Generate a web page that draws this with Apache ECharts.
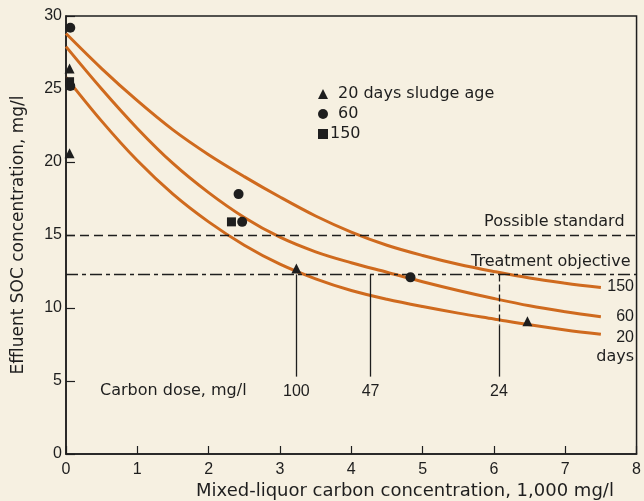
<!DOCTYPE html>
<html><head><meta charset="utf-8">
<script src="https://cdn.jsdelivr.net/npm/echarts@6/dist/echarts.min.js"></script>
<style>html,body{margin:0;padding:0;background:#f6f0e1;} #c{width:644px;height:501px;}</style>
</head><body><div id="c"></div>
<script>
const xTicks = [0, 1, 2, 3, 4, 5, 6, 7, 8];
const yTicks = [0, 5, 10, 15, 20, 25, 30];
const curveX   = [0, 0.5, 1, 1.5, 2, 2.5, 3, 3.5, 4, 4.5, 5, 5.5, 6, 6.5, 7, 7.5];
const curve150 = [28.8, 26.4, 24.2, 22.2, 20.5, 19.0, 17.6, 16.3, 15.2, 14.3, 13.6, 13.0, 12.5, 12.05, 11.7, 11.4];
const curve60  = [27.9, 25.0, 22.3, 19.9, 17.9, 16.2, 14.85, 13.85, 13.1, 12.45, 11.8, 11.2, 10.65, 10.15, 9.75, 9.4];
const curve20  = [25.8, 22.8, 20.1, 17.8, 15.9, 14.3, 13.0, 12.0, 11.2, 10.6, 10.1, 9.65, 9.25, 8.85, 8.5, 8.2];
const curveNames = ['150', '60', '20'];
const tri20X = [0.05, 0.05, 3.23, 6.47];
const tri20Y = [26.4, 20.6, 12.7, 9.1];
const circ60X = [0.06, 0.06, 2.42, 2.47, 4.83];
const circ60Y = [29.2, 25.2, 17.8, 15.9, 12.1];
const sq150X = [0.05, 2.32];
const sq150Y = [25.5, 15.9];
const legendNames = ['20 days sludge age', '60', '150'];
const possibleStandard = 15;
const treatmentObjective = 12.3;
const doseX = [3.23, 4.27, 6.07];
const doseLabels = ['100', '47', '24'];
const doseBottom = 5.3;
const dose24DashEnd = 8.8;

const ink = '#1e1e1e';
const orange = '#cf6a1e';
const numFont = 'Liberation Sans, Arial, Helvetica, sans-serif';
const txtFont = 'DejaVu Sans, Verdana, sans-serif';
const pair = (xs, ys) => xs.map((x, i) => [x, ys[i]]);

const chart = echarts.init(document.getElementById('c'), null, {renderer: 'canvas'});

const curveSeries = [curve150, curve60, curve20].map((c, i) => ({
  type: 'line', name: 'curve' + curveNames[i], data: pair(curveX, c),
  smooth: 0.35, showSymbol: false, symbol: 'none',
  lineStyle: {color: orange, width: 3}, z: 3, silent: true
}));

const doseLines = doseX.map((x, i) => {
  if (i === 2) {
    return [
      {coord: [x, treatmentObjective], lineStyle: {type: [7, 3]}, label: {show: false}},
      {coord: [x, dose24DashEnd]}
    ];
  }
  return [{coord: [x, treatmentObjective]}, {coord: [x, doseBottom], label: {show: true, formatter: doseLabels[i]}}];
});
doseLines.push([{coord: [doseX[2], dose24DashEnd]}, {coord: [doseX[2], doseBottom], label: {show: true, formatter: doseLabels[2]}}]);

const option = {
  backgroundColor: '#f6f0e1',
  animation: false,
  textStyle: {fontFamily: numFont, color: ink},
  grid: {left: 66, right: 3, top: 16, bottom: 47, show: true, borderColor: ink, borderWidth: 1.5, backgroundColor: 'transparent'},
  legend: {
    orient: 'vertical', left: 313, top: 81, itemGap: 4, itemWidth: 10, itemHeight: 10,
    data: [
      {name: legendNames[0], icon: 'triangle', textStyle: {padding: [0, 0, 0, 5]}},
      {name: legendNames[1], icon: 'circle', textStyle: {padding: [0, 0, 0, 5]}},
      {name: legendNames[2], icon: 'rect', textStyle: {padding: [0, 0, 0, -3]}}
    ],
    textStyle: {fontFamily: txtFont, fontSize: 16, color: ink},
    selectedMode: false
  },
  xAxis: {
    type: 'value', min: 0, max: 8, interval: 1,
    axisLine: {show: true, onZero: false, lineStyle: {color: ink, width: 1.5}},
    axisTick: {show: true, inside: true, length: 8, lineStyle: {color: ink, width: 1.2}},
    axisLabel: {fontSize: 16, color: ink, margin: 8, fontFamily: numFont, formatter: v => String(xTicks[v] ?? v)},
    splitLine: {show: false}
  },
  yAxis: {
    type: 'value', min: 0, max: 30, interval: 5,
    name: 'Effluent SOC concentration, mg/l', nameLocation: 'middle', nameGap: 39,
    nameTextStyle: {fontSize: 17, color: ink, fontFamily: txtFont},
    axisLine: {show: true, lineStyle: {color: ink, width: 1.5}},
    axisTick: {show: true, inside: true, length: 9, lineStyle: {color: ink, width: 1.2}},
    axisLabel: {fontSize: 16, color: ink, margin: 4, fontFamily: numFont},
    splitLine: {show: false}
  },
  series: [
    ...curveSeries,
    {
      type: 'line', name: 'refs', data: [], silent: true,
      markLine: {
        symbol: 'none', silent: true, animation: false,
        lineStyle: {color: ink, width: 1.3, type: [9, 5]},
        label: {fontSize: 16, color: ink, fontFamily: txtFont},
        data: [
          [{coord: [0, possibleStandard]}, {coord: [8, possibleStandard], label: {show: true, position: 'insideEndTop', formatter: 'Possible standard', distance: [12, 5]}}],
          [{coord: [0, treatmentObjective], lineStyle: {type: [12, 4, 4, 4]}}, {coord: [8, treatmentObjective], label: {show: true, position: 'insideEndTop', formatter: 'Treatment objective', distance: [6, 5]}}]
        ]
      }
    },
    {
      type: 'line', name: 'dose', data: [], silent: true,
      markLine: {
        symbol: 'none', silent: true, animation: false,
        lineStyle: {color: ink, width: 1.3, type: 'solid'},
        label: {show: false, position: 'end', distance: 7, fontSize: 16, color: ink, fontFamily: numFont},
        data: doseLines
      }
    },
    {type: 'scatter', name: legendNames[0], data: pair(tri20X, tri20Y), symbol: 'triangle', symbolSize: 10, itemStyle: {color: ink, opacity: 1}, z: 5},
    {type: 'scatter', name: legendNames[2], data: pair(sq150X, sq150Y), symbol: 'rect', symbolSize: 9, itemStyle: {color: ink, opacity: 1}, z: 5},
    {type: 'scatter', name: legendNames[1], data: pair(circ60X, circ60Y), symbol: 'circle', symbolSize: 10, itemStyle: {color: ink, opacity: 1}, z: 6}
  ],
  graphic: [
    {type: 'text', left: 100, top: 383, style: {text: 'Carbon dose, mg/l', font: '16px ' + txtFont, fill: ink}},
    {type: 'text', right: 10, top: 279, style: {text: '150', font: '16px ' + numFont, fill: ink}},
    {type: 'text', right: 10, top: 309, style: {text: '60', font: '16px ' + numFont, fill: ink}},
    {type: 'text', right: 10, top: 330, style: {text: '20', font: '16px ' + numFont, fill: ink}},
    {type: 'text', right: 10, top: 349, style: {text: 'days', font: '16px ' + txtFont, fill: ink}},
    {type: 'text', left: 196, top: 482, style: {text: 'Mixed-liquor carbon concentration, 1,000 mg/l', font: '18px ' + txtFont, fill: ink}}
  ]
};
chart.setOption(option);
</script></body></html>
